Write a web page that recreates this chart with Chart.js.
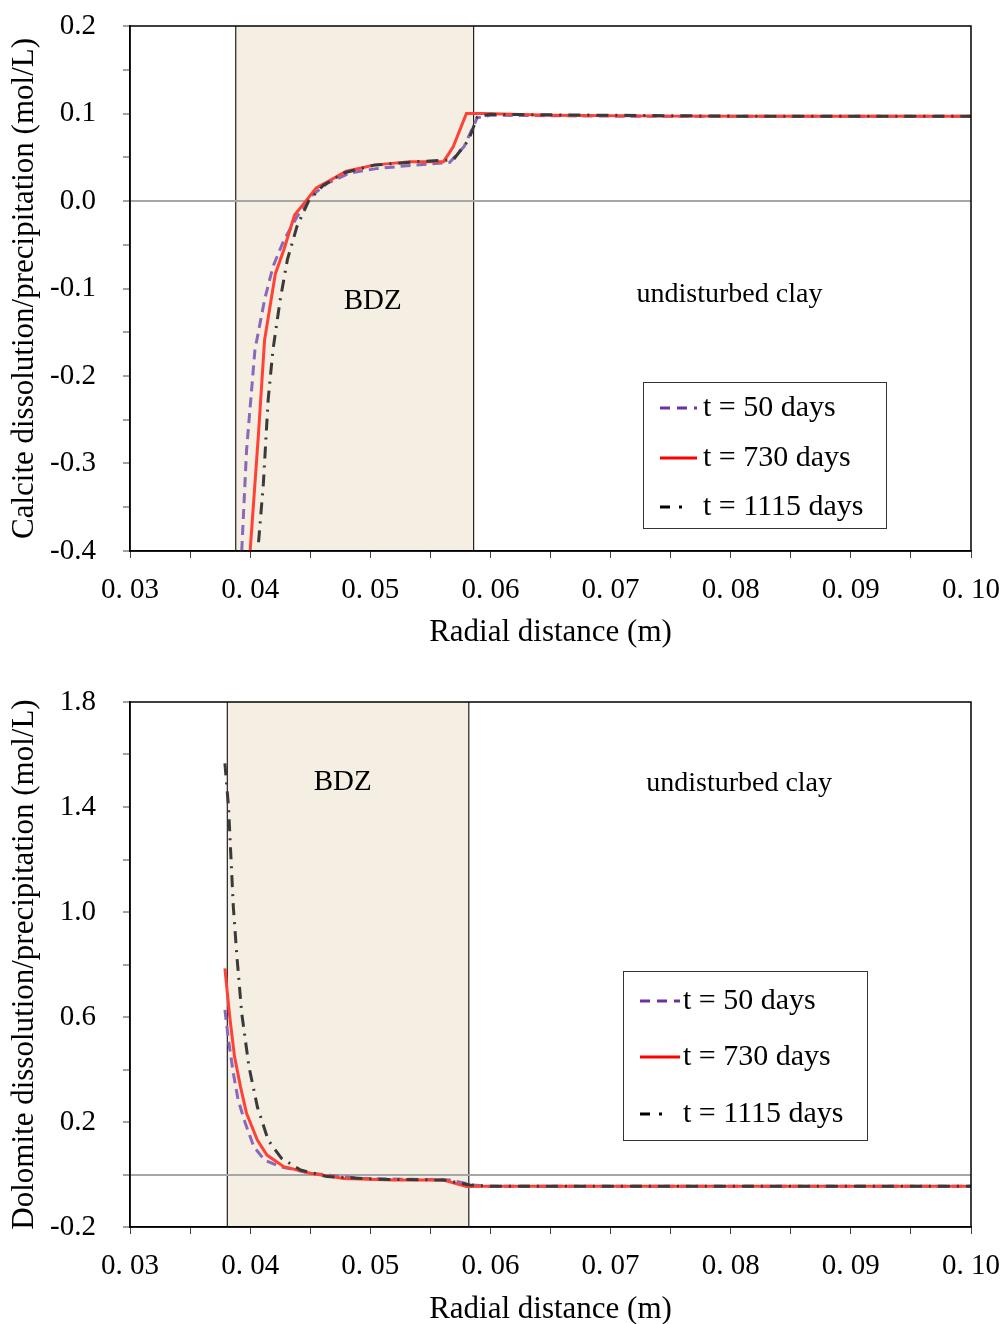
<!DOCTYPE html>
<html>
<head>
<meta charset="utf-8">
<script src="https://cdn.jsdelivr.net/npm/chart.js@4.4.0/dist/chart.umd.min.js"></script>
<style>
  body { margin: 0; background: #fff; }
  canvas { display: block; }
</style>
</head>
<body>
<canvas id="calciteChart" width="1006" height="660"></canvas>
<canvas id="dolomiteChart" width="1006" height="664"></canvas>
<script>
// axis ticks
const xTicks = [0.03, 0.04, 0.05, 0.06, 0.07, 0.08, 0.09, 0.10];
const xTickLabels = ['0. 03', '0. 04', '0. 05', '0. 06', '0. 07', '0. 08', '0. 09', '0. 10'];
const calciteTicks = [-0.4, -0.3, -0.2, -0.1, 0.0, 0.1, 0.2];
const calciteTickLabels = ['-0.4', '-0.3', '-0.2', '-0.1', '0.0', '0.1', '0.2'];
const dolomiteTicks = [-0.2, 0.2, 0.6, 1.0, 1.4, 1.8];
const dolomiteTickLabels = ['-0.2', '0.2', '0.6', '1.0', '1.4', '1.8'];

const seriesNames = ['t = 50 days', 't = 730 days', 't = 1115 days'];

// BDZ extent (m)
const bdzCalcite = [0.0388, 0.0586];
const bdzDolomite = [0.0381, 0.0582];

// calcite, mol/L
const calcite50X = [0.0393, 0.0397, 0.0404, 0.0412, 0.0419, 0.0428, 0.0439, 0.0450, 0.0464, 0.0483, 0.0505, 0.0536, 0.0566, 0.0578, 0.0589, 0.0600, 0.0700, 0.0800, 0.0900, 0.1000];
const calcite50Y = [-0.400, -0.285, -0.170, -0.113, -0.075, -0.045, -0.018, 0.005, 0.020, 0.032, 0.037, 0.041, 0.044, 0.062, 0.095, 0.098, 0.097, 0.097, 0.097, 0.097];
const calcite730X = [0.0400, 0.0407, 0.0412, 0.0421, 0.0428, 0.0437, 0.0447, 0.0455, 0.0467, 0.0480, 0.0503, 0.0533, 0.0561, 0.0569, 0.0580, 0.0594, 0.0650, 0.0750, 0.0850, 0.1000];
const calcite730Y = [-0.400, -0.265, -0.159, -0.083, -0.056, -0.016, 0.001, 0.015, 0.024, 0.034, 0.041, 0.045, 0.045, 0.062, 0.100, 0.100, 0.098, 0.097, 0.097, 0.097];
const calcite1115X = [0.0407, 0.0411, 0.0415, 0.0419, 0.0425, 0.0431, 0.0439, 0.0449, 0.0461, 0.0478, 0.0503, 0.0539, 0.0569, 0.0582, 0.0589, 0.0600, 0.0700, 0.0800, 0.0900, 0.1000];
const calcite1115Y = [-0.390, -0.323, -0.227, -0.170, -0.113, -0.067, -0.029, 0.001, 0.018, 0.032, 0.041, 0.045, 0.047, 0.070, 0.096, 0.099, 0.098, 0.097, 0.097, 0.097];

// dolomite, mol/L
const dolomite50X = [0.0379, 0.0382, 0.0386, 0.0390, 0.0396, 0.0403, 0.0412, 0.0425, 0.0450, 0.0492, 0.0566, 0.0586, 0.0600, 0.0700, 0.0800, 0.0900, 0.1000];
const dolomite50Y = [0.627, 0.512, 0.386, 0.284, 0.195, 0.106, 0.055, 0.030, 0.005, -0.015, -0.021, -0.040, -0.045, -0.045, -0.045, -0.045, -0.045];
const dolomite730X = [0.0379, 0.0383, 0.0387, 0.0392, 0.0397, 0.0406, 0.0414, 0.0428, 0.0450, 0.0478, 0.0519, 0.0561, 0.0580, 0.0600, 0.0700, 0.0800, 0.0900, 0.1000];
const dolomite730Y = [0.785, 0.601, 0.449, 0.334, 0.233, 0.131, 0.074, 0.030, 0.005, -0.015, -0.021, -0.021, -0.046, -0.045, -0.045, -0.045, -0.045, -0.045];
const dolomite1115X = [0.0379, 0.0382, 0.0384, 0.0386, 0.0389, 0.0393, 0.0399, 0.0406, 0.0415, 0.0426, 0.0442, 0.0464, 0.0505, 0.0561, 0.0583, 0.0600, 0.0700, 0.0800, 0.0900, 0.1000];
const dolomite1115Y = [1.566, 1.400, 1.210, 1.020, 0.830, 0.614, 0.411, 0.258, 0.131, 0.062, 0.017, -0.008, -0.018, -0.021, -0.040, -0.045, -0.045, -0.045, -0.045, -0.045];

const FONT = "'Liberation Serif', 'Times New Roman', serif";

function points(xs, ys) {
    return xs.map((x, i) => ({ x: x, y: ys[i] }));
}

// major ticks plus one unlabeled minor tick between each pair
function withMinor(major) {
    return function (scale) {
        const out = [];
        for (let i = 0; i < major.length; i++) {
            out.push({ value: major[i] });
            if (i < major.length - 1) out.push({ value: (major[i] + major[i + 1]) / 2 });
        }
        scale.ticks = out;
    };
}

function labelFor(major, labels) {
    return function (value) {
        const i = major.findIndex(m => Math.abs(m - value) < 1e-9);
        return i >= 0 ? labels[i] : '';
    };
}

// BDZ band, frame, notes and legend box
const overlay = {
    id: 'overlay',
    beforeDraw(chart, args, opts) {
        const { ctx, chartArea: a, scales: { x } } = chart;
        const x0 = x.getPixelForValue(opts.band[0]);
        const x1 = x.getPixelForValue(opts.band[1]);
        ctx.save();
        ctx.fillStyle = '#f4eee3';
        ctx.fillRect(x0, a.top, x1 - x0, a.bottom - a.top);
        ctx.strokeStyle = '#222';
        ctx.lineWidth = 1.2;
        ctx.beginPath();
        ctx.moveTo(x0, a.top); ctx.lineTo(x0, a.bottom);
        ctx.moveTo(x1, a.top); ctx.lineTo(x1, a.bottom);
        ctx.stroke();
        ctx.restore();
    },
    afterDatasetsDraw(chart, args, opts) {
        const { ctx, chartArea: a, scales: { x, y } } = chart;
        ctx.save();
        ctx.strokeStyle = '#000';
        ctx.lineWidth = 1.5;
        ctx.strokeRect(a.left, a.top, a.right - a.left, a.bottom - a.top);

        ctx.fillStyle = '#000';
        ctx.textAlign = 'center';
        ctx.textBaseline = 'middle';
        opts.notes.forEach(n => {
            ctx.font = n.size + 'px ' + FONT;
            ctx.fillText(n.text, x.getPixelForValue(n.x), y.getPixelForValue(n.y));
        });

        const L = opts.legend;
        ctx.fillStyle = '#fff';
        ctx.fillRect(L.left, L.top, L.width, L.height);
        ctx.strokeStyle = '#333';
        ctx.lineWidth = 1;
        ctx.strokeRect(L.left + 0.5, L.top + 0.5, L.width, L.height);
        ctx.font = '30px ' + FONT;
        ctx.textAlign = 'left';
        chart.data.datasets.forEach((ds, i) => {
            const ry = L.rows[i];
            ctx.strokeStyle = ds.legendColor;
            ctx.lineWidth = 3;
            ctx.setLineDash(ds.legendDash);
            ctx.beginPath();
            ctx.moveTo(L.lineStart, ry);
            ctx.lineTo(L.lineEnd, ry);
            ctx.stroke();
            ctx.setLineDash([]);
            ctx.fillStyle = '#000';
            ctx.fillText(ds.label, L.textX, ry);
        });
        ctx.restore();
    }
};

function makeChart(id, series, yTicks, yLabels, yTitle, pad, xAxisHeight, xTitlePad, overlayOpts) {
    const styles = [
        { borderColor: '#8a68ba', legendColor: '#7030a0', borderDash: [10, 6], legendDash: [10, 7], order: 2 },
        { borderColor: '#ff4136', legendColor: '#ff0000', borderDash: [], legendDash: [], order: 1 },
        { borderColor: '#3a3a3a', legendColor: '#000000', borderDash: [12, 7, 2, 7], legendDash: [10, 9, 3, 40], order: 0 }
    ];
    return new Chart(document.getElementById(id), {
        type: 'line',
        data: {
            datasets: series.map((pts, i) => Object.assign({
                label: seriesNames[i],
                data: pts,
                borderWidth: 3,
                pointRadius: 0,
                tension: 0,
                fill: false
            }, styles[i]))
        },
        options: {
            responsive: false,
            animation: false,
            layout: { padding: pad },
            plugins: {
                legend: { display: false },
                tooltip: { enabled: false },
                overlay: overlayOpts
            },
            scales: {
                x: {
                    type: 'linear',
                    min: 0.03,
                    max: 0.10,
                    afterBuildTicks: withMinor(xTicks),
                    afterFit(scale) {
                        scale.height = xAxisHeight;
                        scale.paddingLeft = 0;
                        scale.paddingRight = 0;
                    },
                    ticks: {
                        callback: labelFor(xTicks, xTickLabels),
                        font: { family: FONT, size: 29 },
                        color: '#000',
                        padding: 15,
                        maxRotation: 0,
                        autoSkip: false
                    },
                    grid: { drawOnChartArea: false, tickLength: 7, tickColor: '#444', tickWidth: 1 },
                    border: { color: '#000', width: 1.5 },
                    title: {
                        display: true,
                        text: 'Radial distance (m)',
                        font: { family: FONT, size: 31 },
                        color: '#000',
                        padding: { top: 0, bottom: xTitlePad }
                    }
                },
                y: {
                    type: 'linear',
                    min: yTicks[0],
                    max: yTicks[yTicks.length - 1],
                    afterBuildTicks: withMinor(yTicks),
                    afterFit(scale) {
                        scale.width = 130;
                        scale.paddingTop = 0;
                        scale.paddingBottom = 0;
                    },
                    ticks: {
                        callback: labelFor(yTicks, yLabels),
                        font: { family: FONT, size: 29 },
                        color: '#000',
                        padding: 27,
                        autoSkip: false
                    },
                    grid: {
                        color: c => (c.tick && Math.abs(c.tick.value) < 1e-9) ? '#a6a6a6' : 'rgba(0,0,0,0)',
                        lineWidth: 2,
                        tickLength: 7,
                        tickColor: '#444',
                        tickWidth: 1
                    },
                    border: { color: '#000', width: 1.5 },
                    title: {
                        display: true,
                        text: yTitle,
                        font: { family: FONT, size: 31 },
                        color: '#000',
                        padding: { top: 6, bottom: 0 }
                    }
                }
            }
        },
        plugins: [overlay]
    });
}

makeChart('calciteChart',
    [points(calcite50X, calcite50Y), points(calcite730X, calcite730Y), points(calcite1115X, calcite1115Y)],
    calciteTicks, calciteTickLabels,
    'Calcite dissolution/precipitation (mol/L)',
    { top: 26, right: 35, bottom: 9, left: 0 }, 100, 0,
    {
        band: bdzCalcite,
        notes: [
            { text: 'BDZ', x: 0.0502, y: -0.115, size: 29 },
            { text: 'undisturbed clay', x: 0.0799, y: -0.107, size: 28 }
        ],
        legend: { left: 643, top: 382, width: 243, height: 146, rows: [408, 458, 507], lineStart: 660, lineEnd: 697, textX: 703 }
    });

makeChart('dolomiteChart',
    [points(dolomite50X, dolomite50Y), points(dolomite730X, dolomite730Y), points(dolomite1115X, dolomite1115Y)],
    dolomiteTicks, dolomiteTickLabels,
    'Dolomite dissolution/precipitation (mol/L)',
    { top: 42, right: 35, bottom: 0, left: 0 }, 97, -4,
    {
        band: bdzDolomite,
        notes: [
            { text: 'BDZ', x: 0.0477, y: 1.495, size: 29 },
            { text: 'undisturbed clay', x: 0.0807, y: 1.49, size: 28 }
        ],
        legend: { left: 623, top: 311, width: 244, height: 169, rows: [341, 397, 454], lineStart: 640, lineEnd: 680, textX: 683 }
    });
</script>
</body>
</html>
